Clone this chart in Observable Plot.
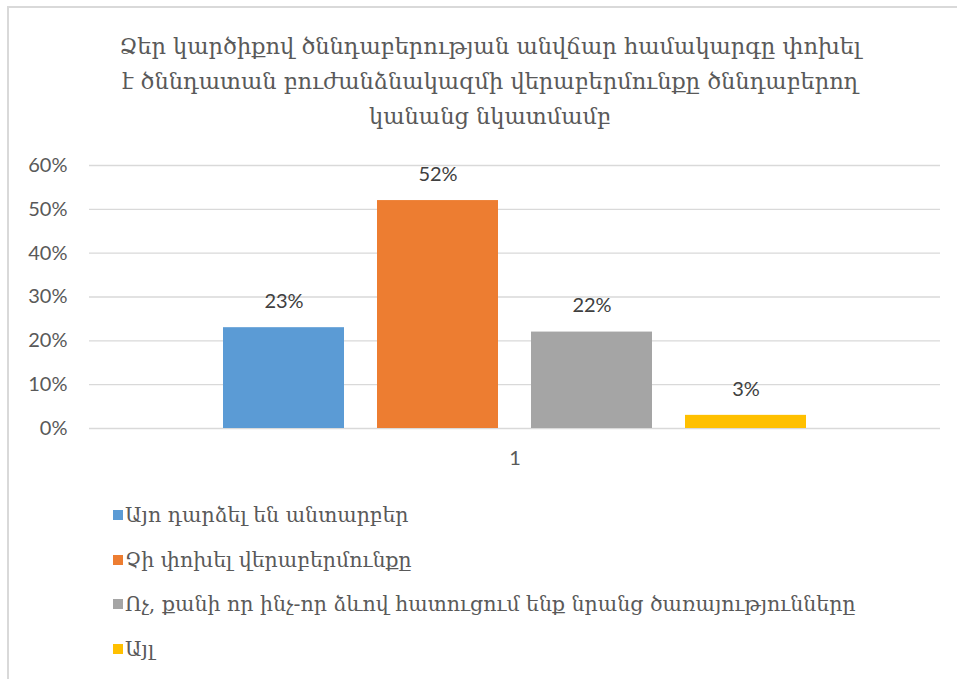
<!DOCTYPE html>
<html>
<head>
<meta charset="utf-8">
<script src="https://cdn.jsdelivr.net/npm/d3@7"></script>
<script src="https://cdn.jsdelivr.net/npm/@observablehq/plot@0.6"></script>
<style>
  html, body { margin: 0; padding: 0; background: #fff; }
  body { position: relative; width: 957px; height: 679px; overflow: hidden; }
  #frame { position: absolute; left: 7px; top: 6px; width: 1000px; height: 700px;
           border-left: 2px solid #d9d9d9; border-top: 2px solid #d9d9d9; box-sizing: border-box; }
  #title { position: absolute; left: 0; top: 29px; width: 980px; text-align: center;
           font-family: "DejaVu Serif", "Noto Serif", serif; font-size: 22.5px; line-height: 35px; color: #595959; }
  #chart { position: absolute; left: 0; top: 140px; }
  #legend { position: absolute; left: 113px; top: 493px; font-family: "DejaVu Serif", serif;
            font-size: 20.5px; color: #595959; }
  .item { height: 44.5px; display: flex; align-items: center; }
  .sw { width: 10px; height: 10px; margin-right: 2px; flex: none; }
</style>
</head>
<body>
<div id="frame"></div>
<div id="title">Ձեր կարծիքով ծննդաբերության անվճար համակարգը փոխել<br>է ծննդատան բուժանձնակազմի վերաբերմունքը ծննդաբերող<br>կանանց նկատմամբ</div>
<div id="chart"></div>
<div id="legend"></div>
<script>
const categories = [
  "Այո դարձել են անտարբեր",
  "Չի փոխել վերաբերմունքը",
  "Ոչ, քանի որ ինչ-որ ձևով հատուցում ենք նրանց ծառայությունները",
  "Այլ"
];
const values = [0.23, 0.52, 0.22, 0.03];
const colors = ["#5B9BD5", "#ED7D31", "#A5A5A5", "#FFC000"];
const groupLabels = ["1"];
const yTicks = [0, 0.1, 0.2, 0.3, 0.4, 0.5, 0.6];

const data = categories.map((c, i) => ({group: groupLabels[0], category: c, value: values[i]}));
const pct = d => Math.round(d * 100) + "%";

const chart = Plot.plot({
  width: 957,
  height: 340,
  marginLeft: 89,
  marginRight: 17,
  marginTop: 25,
  marginBottom: 52,
  style: {fontFamily: "Lato, 'Open Sans', sans-serif", fontSize: "20px", color: "#595959", background: "transparent"},
  fx: {domain: groupLabels, padding: 0, label: null},
  x: {domain: categories, paddingInner: 0.213, paddingOuter: 0.852, axis: null},
  y: {domain: [0, 0.6], label: null},
  color: {domain: categories, range: colors},
  marks: [
    Plot.gridY(yTicks, {stroke: "#d9d9d9", strokeOpacity: 1, strokeWidth: 1.3}),
    Plot.barY(data, {fx: "group", x: "category", y: "value", fill: "category"}),
    Plot.text(data, {fx: "group", x: "category", y: "value", text: d => pct(d.value), dy: -26, fill: "#404040", fontSize: 20}),
    Plot.axisY({ticks: yTicks, tickFormat: pct, tickSize: 0, tickPadding: 22, fontSize: 20, label: null}),
    Plot.axisFx({anchor: "bottom", tickSize: 0, tickPadding: 22, fontSize: 20, label: null})
  ]
});
document.getElementById("chart").appendChild(chart);

const legend = document.getElementById("legend");
categories.forEach((c, i) => {
  const item = document.createElement("div");
  item.className = "item";
  const sw = document.createElement("span");
  sw.className = "sw";
  sw.style.background = colors[i];
  const t = document.createElement("span");
  t.textContent = c;
  item.appendChild(sw);
  item.appendChild(t);
  legend.appendChild(item);
});
</script>
</body>
</html>
